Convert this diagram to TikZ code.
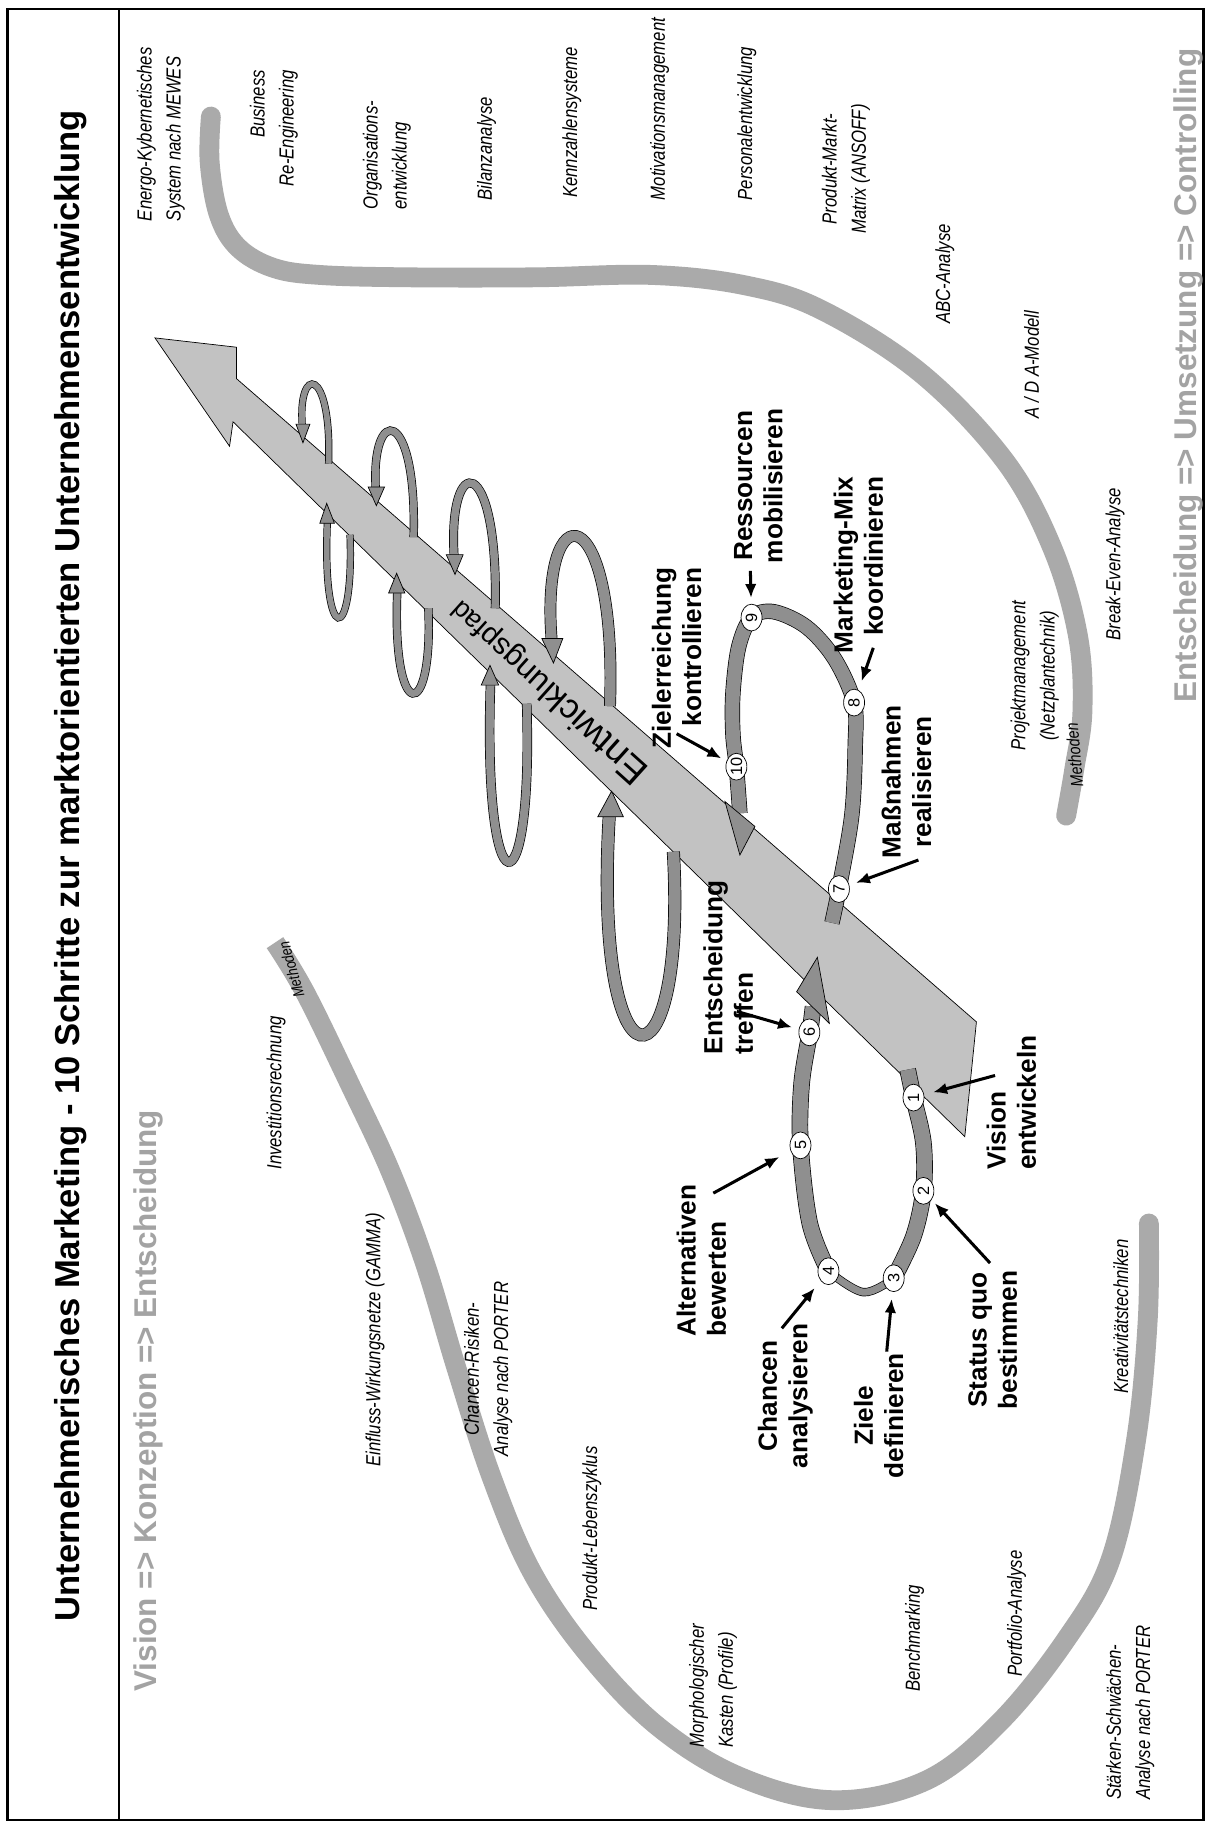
\documentclass[tikz,border=0pt]{standalone}
\usepackage{fontspec}
\setmainfont{Liberation Sans}
\newfontfamily\narrowfont[FakeStretch=0.82]{Liberation Sans}
\usetikzlibrary{shapes.geometric,arrows.meta}
\definecolor{bandgray}{HTML}{C2C2C2}
\definecolor{ribgray}{HTML}{8F8F8F}
\definecolor{methgray}{HTML}{AAAAAA}
\definecolor{subgray}{HTML}{A3A3A3}
\begin{document}
\begin{tikzpicture}[x=1pt,y=-1pt,
 methlbl/.style={font=\narrowfont\itshape\fontsize{17.5}{25}\selectfont, rotate=90, inner sep=0pt},
 steplbl/.style={font=\bfseries\fontsize{22.5}{26}\selectfont, rotate=90, inner sep=0pt},
 numc/.style={ellipse, draw=black, fill=white, line width=0.6pt, minimum width=23pt, minimum height=18pt, inner sep=0pt, rotate=90, font=\fontsize{14}{14}\selectfont},
 ribbon/.style={draw=black, line width=0.6pt, double=ribgray, double distance=#1},
 ribhead/.style={draw=black, line width=0.6pt, fill=ribgray, line join=miter},
 methrib/.style={draw=methgray, line width=17pt},
 stparrow/.style={-{Latex[length=12pt,width=10pt]}, line width=2.6pt, shorten >=#1},
 pch/.style={rotate=138, anchor=base, inner sep=0pt, font=\fontsize{#1}{#1}\selectfont},
 ]
\useasboundingbox (0,0) rectangle (1035,1568);
\fill[white] (0,0) rectangle (1035,1568);
% frame
\draw[line width=2pt] (6.5,7.5) rectangle (1033,1562);
\draw[line width=2pt] (102,7.5) -- (102,1562);
% title and phases
\node[rotate=90, inner sep=0pt, font=\bfseries\fontsize{29.7}{32}\selectfont] (title) at (61,743)
 {Unternehmerisches Marketing - 10 Schritte zur marktorientierten Unternehmensentwicklung};
\node[rotate=90, anchor=west, inner sep=0pt, text=subgray, font=\bfseries\fontsize{27}{30}\selectfont] (subL) at (127.7,1452)
 {Vision => Konzeption => Entscheidung};
\node[rotate=90, anchor=west, inner sep=0pt, text=subgray, font=\bfseries\fontsize{27}{30}\selectfont] (subR) at (1020,603)
 {Entscheidung => Umsetzung => Controlling};

% method ribbons
\draw[methrib, line cap=round] plot[smooth, tension=0.6] coordinates {(181,100) (180,140) (188,185) (205,213) (235,230) (275,236) (350,238) (460,238) (560,236) (640,245) (705,266) (790,320) (862,395) (903,470) (925,545) (929,610) (922,660) (915,700)};
\draw[methrib, line cap=butt] plot[smooth, tension=0.6] coordinates {(236,809) (262,852) (300,930) (335,1005) (365,1085) (392,1175) (422,1268) (457,1350) (505,1420) (565,1482) (635,1525) (715,1545) (795,1528) (858,1478) (915,1407) (953,1339) (975,1236) (985,1133) (986,1050)};
\fill[methgray] (986,1050) circle (8.5);
\node[rotate=106, inner sep=0pt, font=\narrowfont\itshape\fontsize{13.5}{13.5}\selectfont] (methL) at (250,832) {Methoden};
\node[rotate=95, inner sep=0pt, font=\narrowfont\itshape\fontsize{15}{15}\selectfont] (methR) at (922,648) {Methoden};

% method labels right part
\node[methlbl, align=left, anchor=west] (mEnergo) at (138,190) {Energo-Kybernetisches\\System nach MEWES};
\node[methlbl, align=right, anchor=east] (mBusiness) at (235,60) {Business\\Re-Engineering};
\node[methlbl, align=left, anchor=west] (mOrg) at (332,180) {Organisations-\\entwicklung};
\node[methlbl, anchor=west] (mBilanz) at (417.7,172) {Bilanzanalyse};
\node[methlbl, anchor=west] (mKenn) at (490.7,170) {Kennzahlensysteme};
\node[methlbl, anchor=west] (mMotiv) at (566,172) {Motivationsmanagement};
\node[methlbl, anchor=west] (mPers) at (641,172) {Personalentwicklung};
\node[methlbl, align=center] (mPMM) at (726,145) {Produkt-Markt-\\Matrix (ANSOFF)};
\node[methlbl] (mABC) at (811,235) {ABC-Analyse};
\node[methlbl] (mAIDA) at (885.4,313) {A / D A-Modell};
\node[methlbl, anchor=west] (mBE) at (957,550) {Break-Even-Analyse};
\node[methlbl, align=center] (mProj) at (888,580) {Projektmanagement\\(Netzplantechnik)};
% method labels left part
\node[methlbl] (mInv) at (237,938) {Investitionsrechnung};
\node[methlbl] (mEinfl) at (322,1150) {Einfluss-Wirkungsnetze (GAMMA)};
\node[methlbl, align=center] (mChR) at (419,1175) {Chancen-Risiken-\\Analyse nach PORTER};
\node[methlbl] (mPLZ) at (508,1312) {Produkt-Lebenszyklus};
\node[methlbl, align=left, anchor=west] (mMorph) at (612,1500) {Morphologischer\\Kasten (Profile)};
\node[methlbl] (mBench) at (785,1406) {Benchmarking};
\node[methlbl] (mPort) at (872.5,1385) {Portfolio-Analyse};
\node[methlbl, align=left, anchor=west] (mSW) at (970,1545) {Stärken-Schwächen-\\Analyse nach PORTER};
\node[methlbl] (mKreat) at (962,1130) {Kreativitätstechniken};

% development path (big arrow)
\draw[fill=bandgray, draw=black, line width=0.6pt, line join=miter] (133,290) -- (203,298) -- (203,325) -- (838,877) -- (828,975.5) -- (200,362) -- (197,383) -- cycle;
% "Entwicklungspfad" in perspective, letter by letter
\node[pch=33] (p0) at (549.8,652.6) {E};
\node[pch=32.33] (p1) at (535.0,639.3) {n};
\node[pch=31.67] (p2) at (525.0,630.3) {t};
\node[pch=31] (p3) at (513.4,619.9) {w};
\node[pch=30.33] (p4) at (502.6,610.1) {i};
\node[pch=29.67] (p5) at (494.6,602.9) {c};
\node[pch=29] (p6) at (483.7,593.1) {k};
\node[pch=28.33] (p7) at (476.0,586.2) {l};
\node[pch=27.67] (p8) at (468.0,578.9) {u};
\node[pch=27] (p9) at (456.7,568.8) {n};
\node[pch=26.33] (p10) at (445.7,558.9) {g};
\node[pch=25.67] (p11) at (435.5,549.7) {s};
\node[pch=25] (p12) at (425.6,540.8) {p};
\node[pch=24.33] (p13) at (417.9,533.8) {f};
\node[pch=23.67] (p14) at (410.4,527.1) {a};
\node[pch=23] (p15) at (400.8,518.4) {d};

% helix loops above the path
\draw[ribbon=5pt] (259.5,366) .. controls (255,313) and (285,313) .. (282,398);
\draw[ribhead] (254,364) -- (260,380) -- (266,364) -- cycle;
\draw[ribbon=6pt] (322.5,420) .. controls (318,347) and (358,347) .. (355,461);
\draw[ribhead] (316,418) -- (323,434) -- (330,418) -- cycle;
\draw[ribbon=6.5pt] (389.8,478) .. controls (384,387) and (428,387) .. (425,522);
\draw[ribhead] (383,476) -- (390.5,493) -- (397.5,476) -- cycle;
\draw[ribbon=9pt] (473.5,550) .. controls (463,420) and (530,424) .. (523.5,606);
\draw[ribhead] (465,548) -- (475,569) -- (483,548) -- cycle;
% helix loops below the path
\draw[ribbon=5pt] (281,447) .. controls (276,556) and (304,556) .. (300.4,459);
\draw[ribhead] (274.5,449) -- (280.4,432) -- (287,449) -- cycle;
\draw[ribbon=6pt] (341,507) .. controls (336,622) and (372,622) .. (367.6,522);
\draw[ribhead] (333.5,509) -- (340.4,492) -- (347.5,509) -- cycle;
\draw[ribbon=7pt] (421,586) .. controls (414,788) and (458,788) .. (452,604);
\draw[ribhead] (413,588) -- (420.5,571) -- (428,588) -- cycle;
\draw[ribbon=10pt] (523,698) .. controls (508,946) and (590,946) .. (577.9,731);
\draw[ribhead] (513,701) -- (524.9,679) -- (535,701) -- cycle;

% step ribbon 1-6
\draw[ribbon=13pt] plot[smooth, tension=0.55] coordinates {(779,918) (784,942) (792.5,981) (792.5,1022) (784,1061) (767,1097)};
\draw[ribbon=6pt] plot[smooth, tension=0.6] coordinates {(767,1097) (741,1109) (711,1091)};
\draw[ribbon=13pt] plot[smooth, tension=0.55] coordinates {(711,1091) (695,1050) (687,983) (688,930) (695,886) (697.8,864)};
\draw[ribhead] (683.7,851.1) -- (701.5,821.6) -- (711.8,878.3) -- cycle;
% step ribbon 7-10
\draw[ribbon=12pt] plot[smooth, tension=0.55] coordinates {(714,792) (720,763) (731,700) (734,640) (733,603) (716,565) (692,538) (664,525) (645,530) (634,555) (629,595) (629,630) (632,658) (635,698)};
\draw[ribhead] (622.2,687.9) -- (635,733.8) -- (647.9,709.3) -- cycle;

% numbered steps
\node[numc] (c1) at (784,942) {1};
\node[numc] (c2) at (792.5,1022) {2};
\node[numc] (c3) at (767,1097) {3};
\node[numc] (c4) at (711,1091) {4};
\node[numc] (c5) at (687,983) {5};
\node[numc] (c6) at (694.6,886) {6};
\node[numc] (c7) at (720,763) {7};
\node[numc] (c8) at (733,603) {8};
\node[numc] (c9) at (645,530) {9};
\node[numc] (c10) at (632,658) {10};

% step labels
\node[steplbl, align=left, anchor=west] (Lvis) at (868,1004) {Vision\\entwickeln};
\node[steplbl, align=center] (Lstat) at (852,1150) {Status quo\\bestimmen};
\node[steplbl, align=center] (Lziele) at (754,1215) {Ziele\\definieren};
\node[steplbl, align=center] (Lchan) at (674,1198) {Chancen\\analysieren};
\node[steplbl, align=left, anchor=west] (Lalt) at (602,1147) {Alternativen\\bewerten};
\node[steplbl, align=left, anchor=west] (Lent) at (625,905) {Entscheidung\\treffen};
\node[steplbl, align=center] (Lmass) at (778,671) {Maßnahmen\\realisieren};
\node[steplbl, align=right, anchor=east] (Lmix) at (736.6,409) {Marketing-Mix\\koordinieren};
\node[steplbl, align=center] (Lres) at (650.8,417) {Ressourcen\\mobilisieren};
\node[steplbl, align=right, anchor=east] (Lzr) at (580.7,487) {Zielerreichung\\kontrollieren};

% label arrows
\coordinate (s1) at (854,923);
\coordinate (s2) at (849.7,1084);
\coordinate (s3) at (761,1160);
\coordinate (s4) at (671,1140);
\coordinate (s5) at (612.2,1024);
\coordinate (s6) at (632.3,868);
\coordinate (s7) at (788.2,738.1);
\coordinate (s8) at (749.5,556);
\coordinate (s9) at (644,490);
\coordinate (s10) at (580.7,629.7);
\draw[stparrow=8pt] (s1) -- (c1);
\draw[stparrow=4pt] (s2) -- (c2);
\draw[stparrow=6pt] (s3) -- (c3);
\draw[stparrow=8pt] (s4) -- (c4);
\draw[stparrow=11pt] (s5) -- (c5);
\draw[stparrow=6pt] (s6) -- (c6);
\draw[stparrow=6pt] (s7) -- (c7);
\draw[stparrow=8pt] (s8) -- (c8);
\draw[stparrow=5pt] (s9) -- (c9);
\draw[stparrow=5pt] (s10) -- (c10);
\end{tikzpicture}
\end{document}
